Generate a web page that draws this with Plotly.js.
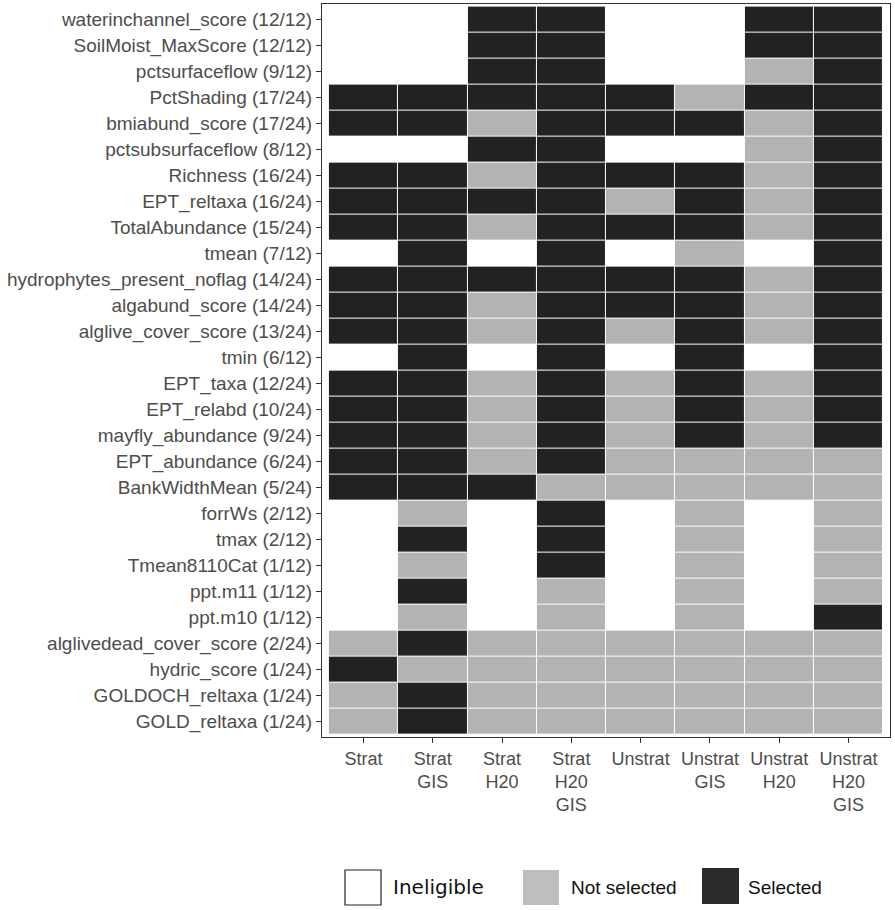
<!DOCTYPE html>
<html>
<head>
<meta charset="utf-8">
<script src="https://cdn.plot.ly/plotly-3.0.1.min.js"></script>
<style>
  html, body { margin: 0; padding: 0; background: #ffffff; }
  #chart { width: 895px; height: 910px; }
</style>
</head>
<body>
<div id="chart"></div>
<script>
// ---- Data ----
// Status codes: 0 = Ineligible, 1 = Not selected, 2 = Selected
const statusNames = ["Ineligible", "Not selected", "Selected"];

const columnLabels = [
  "Strat", "Strat<br>GIS", "Strat<br>H20", "Strat<br>H20<br>GIS",
  "Unstrat", "Unstrat<br>GIS", "Unstrat<br>H20", "Unstrat<br>H20<br>GIS"
];

const rowLabels = [
  "waterinchannel_score (12/12)",
  "SoilMoist_MaxScore (12/12)",
  "pctsurfaceflow (9/12)",
  "PctShading (17/24)",
  "bmiabund_score (17/24)",
  "pctsubsurfaceflow (8/12)",
  "Richness (16/24)",
  "EPT_reltaxa (16/24)",
  "TotalAbundance (15/24)",
  "tmean (7/12)",
  "hydrophytes_present_noflag (14/24)",
  "algabund_score (14/24)",
  "alglive_cover_score (13/24)",
  "tmin (6/12)",
  "EPT_taxa (12/24)",
  "EPT_relabd (10/24)",
  "mayfly_abundance (9/24)",
  "EPT_abundance (6/24)",
  "BankWidthMean (5/24)",
  "forrWs (2/12)",
  "tmax (2/12)",
  "Tmean8110Cat (1/12)",
  "ppt.m11 (1/12)",
  "ppt.m10 (1/12)",
  "alglivedead_cover_score (2/24)",
  "hydric_score (1/24)",
  "GOLDOCH_reltaxa (1/24)",
  "GOLD_reltaxa (1/24)"
];

// One array per model column, values in rowLabels order
const strat           = [0,0,0,2,2,0,2,2,2,0,2,2,2,0,2,2,2,2,2,0,0,0,0,0,1,2,1,1];
const stratGIS        = [0,0,0,2,2,0,2,2,2,2,2,2,2,2,2,2,2,2,2,1,2,1,2,1,2,1,2,2];
const stratH20        = [2,2,2,2,1,2,1,2,1,0,2,1,1,0,1,1,1,1,2,0,0,0,0,0,1,1,1,1];
const stratH20GIS     = [2,2,2,2,2,2,2,2,2,2,2,2,2,2,2,2,2,2,1,2,2,2,1,1,1,1,1,1];
const unstrat         = [0,0,0,2,2,0,2,1,2,0,2,2,1,0,1,1,1,1,1,0,0,0,0,0,1,1,1,1];
const unstratGIS      = [0,0,0,1,2,0,2,2,2,1,2,2,2,2,2,2,2,1,1,1,1,1,1,1,1,1,1,1];
const unstratH20      = [2,2,1,2,1,1,1,1,1,0,1,1,1,0,1,1,1,1,1,0,0,0,0,0,1,1,1,1];
const unstratH20GIS   = [2,2,2,2,2,2,2,2,2,2,2,2,2,2,2,2,2,1,1,1,1,1,1,2,1,1,1,1];

const columns = [strat, stratGIS, stratH20, stratH20GIS, unstrat, unstratGIS, unstratH20, unstratH20GIS];

// ---- Build heatmap matrix (rows = variables, cols = models) ----
const z = rowLabels.map((_, r) => columns.map(col => col[r]));
const hoverText = rowLabels.map((_, r) => columns.map(col => statusNames[col[r]]));

const cellColors = ["#ffffff", "#b3b3b3", "#222222"];
const legendColors = ["#ffffff", "#bebebe", "#2b2b2b"];

const trace = {
  type: "heatmap",
  x: columnLabels,
  y: rowLabels,
  z: z,
  text: hoverText,
  hoverinfo: "x+y+text",
  zmin: 0,
  zmax: 2,
  colorscale: [[0, cellColors[0]], [0.5, cellColors[1]], [1, cellColors[2]]],
  showscale: false,
  xgap: 1,
  ygap: 1
};

// ---- Layout geometry (pixels) ----
const W = 895, H = 910;
const M = { l: 322, r: 5, t: 4, b: 173 };
const plotW = W - M.l - M.r, plotH = H - M.t - M.b;
const px2x = p => (p - M.l) / plotW;
const px2y = p => (H - M.b - p) / plotH;

// Legend built from the status names
const legendKeys = [
  { x0: 345, x1: 381, y0: 870, y1: 905, text: 391, font: "DejaVu Sans", size: 20, border: "#222222" },
  { x0: 523, x1: 559, y0: 870, y1: 905, text: 569, font: "Liberation Sans, Arial", size: 19, border: legendColors[1] },
  { x0: 702, x1: 739, y0: 868, y1: 904, text: 746, font: "Liberation Sans, Arial", size: 19, border: legendColors[2] }
];

const shapes = legendKeys.map((k, i) => ({
  type: "rect", xref: "paper", yref: "paper",
  x0: px2x(k.x0), x1: px2x(k.x1), y0: px2y(k.y1), y1: px2y(k.y0),
  fillcolor: legendColors[i],
  line: { color: k.border, width: i === 0 ? 1.2 : 0 }
}));

const annotations = legendKeys.map((k, i) => ({
  xref: "paper", yref: "paper",
  x: px2x(k.text), y: px2y(887),
  xanchor: "left", yanchor: "middle",
  text: statusNames[i], showarrow: false,
  font: { family: k.font, size: k.size, color: "#111111" }
}));

const layout = {
  width: W, height: H,
  margin: M,
  paper_bgcolor: "#ffffff",
  plot_bgcolor: "#ffffff",
  font: { family: "Liberation Sans, Arial, sans-serif", color: "#4d4d4d" },
  xaxis: {
    type: "category",
    range: [-0.6, 7.6],
    showgrid: false, zeroline: false,
    showline: true, mirror: true, linecolor: "#333333", linewidth: 1,
    ticks: "outside", ticklen: 5, tickwidth: 1, tickcolor: "#333333",
    tickfont: { size: 18, color: "#4d4d4d" },
    fixedrange: true
  },
  yaxis: {
    type: "category",
    range: [27.6, -0.6],
    showgrid: false, zeroline: false,
    showline: true, mirror: true, linecolor: "#333333", linewidth: 1,
    ticks: "outside", ticklen: 5, tickwidth: 1, tickcolor: "#333333",
    tickfont: { size: 19, color: "#4d4d4d" },
    fixedrange: true
  },
  shapes: shapes,
  annotations: annotations,
  showlegend: false
};

Plotly.newPlot("chart", [trace], layout, { displayModeBar: false, staticPlot: true });
</script>
</body>
</html>
